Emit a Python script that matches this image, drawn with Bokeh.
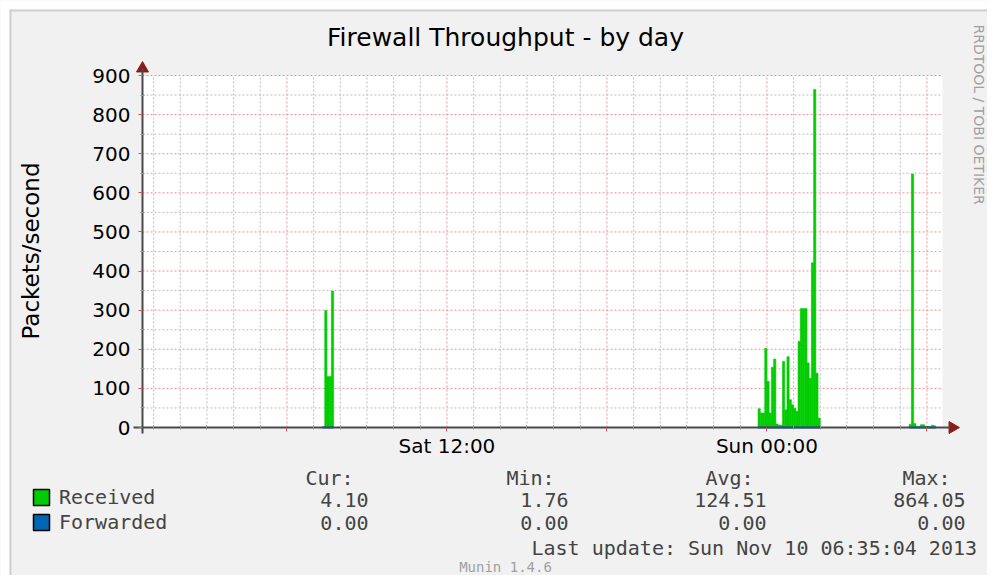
import math
from bokeh.plotting import figure
from bokeh.models import (FixedTicker, Label, Legend, LegendItem, Range1d, ColumnDataSource,
                          BoxAnnotation)
from bokeh.embed import file_html
from bokeh.resources import INLINE

# ---------------- data ----------------
STEP_H = 5 / 60.0                      # 5-minute samples
WINDOW_END = 30 + 35 / 60.0            # Sun 06:35 (hours since Sat 00:00)
WINDOW_START = WINDOW_END - 30         # 30 hour window
Y_MAX = 900

received_start_1 = 7 + 20 / 60.0       # Sat 07:20
received_1 = [1.76, 299, 130, 130, 349]
received_start_2 = 23 + 40 / 60.0      # Sat 23:40
received_2 = [48, 37, 37, 202, 118, 37, 154, 175, 9, 6, 6, 169, 45, 181, 71, 58,
              49, 41, 220, 304, 304, 304, 165, 126, 421, 864.05, 139, 24]
received_start_3 = 29 + 20 / 60.0      # Sun 05:20
received_3 = [8, 648, 10, 3, 2, 7, 7, 3, 2, 2, 6, 4.10]
forwarded_value = 0.0

x_major_hours = [6, 12, 18, 24, 30]
x_minor_hours = [h for h in range(1, 31) if h % 6 != 0]
x_tick_labels = {12: "Sat 12:00", 24: "Sun 00:00"}
y_major = list(range(0, 1000, 100))
y_minor = list(range(50, 900, 100))

series_names = ["Received", "Forwarded"]
stat_headers = ["Cur:", "Min:", "Avg:", "Max:"]
received_stats = ["4.10", "1.76", "124.51", "864.05"]
forwarded_stats = ["0.00", "0.00", "0.00", "0.00"]
last_update = "Last update: Sun Nov 10 06:35:04 2013"
title_text = "Firewall Throughput - by day"
unit_label = "Packets/second"
watermark = "Munin 1.4.6"
logo = "RRDTOOL / TOBI OETIKER"

# ---------------- styling ----------------
BACK = "#F1F1F1"
SHADE = "#CFCFCF"
GREEN = "#00CC00"
BLUE = "#0066B3"
AXIS = "#4A4A4A"
ARROW = "#8B1C1C"
MGRID = "#F29090"
GRID = "#BDBDBD"
FONT = "DejaVu Sans"
MONO = "DejaVu Sans Mono"

W, H = 987, 575
PL, PR, PT, PB = 142, 942, 75, 427          # plot area in canvas px
PXH = (PR - PL) / (WINDOW_END - WINDOW_START)
PXV = (PB - PT) / float(Y_MAX)

def dx(px):  # canvas px -> hours
    return WINDOW_START + (px - PL) / PXH

def dy(py):  # canvas px -> value
    return (PB - py) / PXV

p = figure(width=W, height=H, output_backend="svg", toolbar_location=None, title=None,
           x_range=Range1d(dx(0), dx(W)), y_range=Range1d(dy(H), dy(0)),
           min_border=0)
p.background_fill_color = BACK
p.border_fill_color = BACK
p.outline_line_color = None
p.xgrid.visible = False
p.ygrid.visible = False

# page margin, image shade lines and white canvas
p.add_layout(BoxAnnotation(right=dx(9), fill_color="white", fill_alpha=1, line_color=None,
                           level="underlay"))
p.add_layout(BoxAnnotation(bottom=dy(9), fill_color="white", fill_alpha=1, line_color=None,
                           level="underlay"))
p.add_layout(BoxAnnotation(left=dx(9), right=dx(11), top=dy(9), fill_color=SHADE, fill_alpha=1,
                           line_color=None, level="underlay"))
p.add_layout(BoxAnnotation(left=dx(9), top=dy(9), bottom=dy(11), fill_color=SHADE, fill_alpha=1,
                           line_color=None, level="underlay"))
p.add_layout(BoxAnnotation(left=WINDOW_START, right=WINDOW_END, bottom=0, top=Y_MAX,
                           fill_color="white", fill_alpha=1, line_color=None, level="underlay"))

# grid lines (within the canvas area only)
def vlines(hours, color):
    p.segment(x0=hours, y0=[0] * len(hours), x1=hours, y1=[Y_MAX] * len(hours),
              line_color=color, line_dash="2 2", line_width=1)

def hlines(vals, color):
    p.segment(x0=[WINDOW_START] * len(vals), y0=vals, x1=[WINDOW_END] * len(vals), y1=vals,
              line_color=color, line_dash="2 2", line_width=1)

vlines(x_minor_hours, GRID)
hlines(y_minor, GRID)
vlines(x_major_hours, MGRID)
hlines(y_major[1:], MGRID)

# received areas and forwarded line
lefts, rights, tops = [], [], []
fx, fy = [], []
for start, vals in [(received_start_1, received_1), (received_start_2, received_2),
                    (received_start_3, received_3)]:
    for i, v in enumerate(vals):
        lefts.append(start + i * STEP_H)
        rights.append(start + (i + 1) * STEP_H)
        tops.append(v)
    fx += [start, start + len(vals) * STEP_H, float("nan")]
    fy += [forwarded_value, forwarded_value, float("nan")]

src = ColumnDataSource(dict(left=lefts, right=rights, top=tops, bottom=[0] * len(tops)))
p.quad(left="left", right="right", top="top", bottom="bottom", source=src,
       fill_color=GREEN, line_color=GREEN, line_width=0.6)
p.line(fx, fy, line_color=BLUE, line_width=2)

# axes drawn at fixed positions
xa = p.xaxis[0]
ya = p.yaxis[0]
xa.fixed_location = 0
ya.fixed_location = WINDOW_START
xa.bounds = (dx(133), dx(950))
ya.bounds = (dy(433), dy(68))
xa.ticker = FixedTicker(ticks=x_major_hours, minor_ticks=x_minor_hours)
xa.major_label_overrides = {h: x_tick_labels.get(h, "") for h in x_major_hours}
ya.ticker = FixedTicker(ticks=y_major, minor_ticks=y_minor)
for a in (xa, ya):
    a.axis_line_color = AXIS
    a.axis_line_width = 2
    a.major_tick_line_color = "#E05050"
    a.major_tick_in = 0
    a.major_tick_out = 4
    a.minor_tick_line_color = "#909090"
    a.minor_tick_in = 2
    a.minor_tick_out = 2
    a.major_label_text_font = FONT
    a.major_label_text_font_size = "20px"
    a.major_label_text_color = "black"
xa.major_label_standoff = 2
ya.major_label_standoff = 8
ya.axis_label = unit_label
ya.axis_label_text_font = FONT
ya.axis_label_text_font_size = "23px"
ya.axis_label_text_font_style = "normal"
ya.axis_label_text_color = "black"
ya.axis_label_standoff = 45

# arrow heads at axis ends
p.scatter(x=[dx(952)], y=[0], marker="triangle", size=12, angle=-math.pi / 2,
          fill_color=ARROW, line_color=ARROW)
p.scatter(x=[WINDOW_START], y=[dy(68)], marker="triangle", size=12,
          fill_color=ARROW, line_color=ARROW)

# title
p.add_layout(Label(x=dx(505), y=dy(37), text=title_text, text_font=FONT, text_font_size="25px",
                   text_color="black", text_align="center", text_baseline="middle"))

# legend (swatches with black outline)
nan = float("nan")
rx_proxy = p.quad(left=[nan], right=[nan], top=[nan], bottom=[nan], fill_color=GREEN,
                  line_color="black", line_width=1.5)
fw_proxy = p.quad(left=[nan], right=[nan], top=[nan], bottom=[nan], fill_color=BLUE,
                  line_color="black", line_width=1.5)
legend = Legend(items=[LegendItem(label=series_names[0], renderers=[rx_proxy]),
                       LegendItem(label=series_names[1], renderers=[fw_proxy])],
                location=(31, H - 534), orientation="vertical",
                glyph_width=20, glyph_height=20, label_standoff=8, spacing=1,
                padding=0, margin=0, border_line_color=None, background_fill_alpha=0,
                label_text_font=MONO, label_text_font_size="20px")
p.add_layout(legend)

# statistics table
head_x = [305, 506, 705, 902]
num_x = [368, 568, 766, 965]
for hx, htxt in zip(head_x, stat_headers):
    p.add_layout(Label(x=dx(hx), y=dy(477), text=htxt, text_font=MONO, text_font_size="20px",
                       text_align="left", text_baseline="middle"))
for row_y, stats in [(499, received_stats), (522, forwarded_stats)]:
    for nx, t in zip(num_x, stats):
        p.add_layout(Label(x=dx(nx), y=dy(row_y), text=t, text_font=MONO, text_font_size="20px",
                           text_align="right", text_baseline="middle"))
p.add_layout(Label(x=dx(531), y=dy(547), text=last_update, text_font=MONO, text_font_size="20px",
                   text_align="left", text_baseline="middle"))
p.add_layout(Label(x=dx(505), y=dy(566), text=watermark, text_font=MONO, text_font_size="14px",
                   text_color="#A0A0A0", text_align="center", text_baseline="middle"))
p.add_layout(Label(x=dx(978), y=dy(24), text=logo, text_font=FONT, text_font_size="14px",
                   text_color="#A0A0A0", text_align="left", text_baseline="middle",
                   angle=-math.pi / 2))

open("out.html", "w").write(file_html(p, INLINE))
